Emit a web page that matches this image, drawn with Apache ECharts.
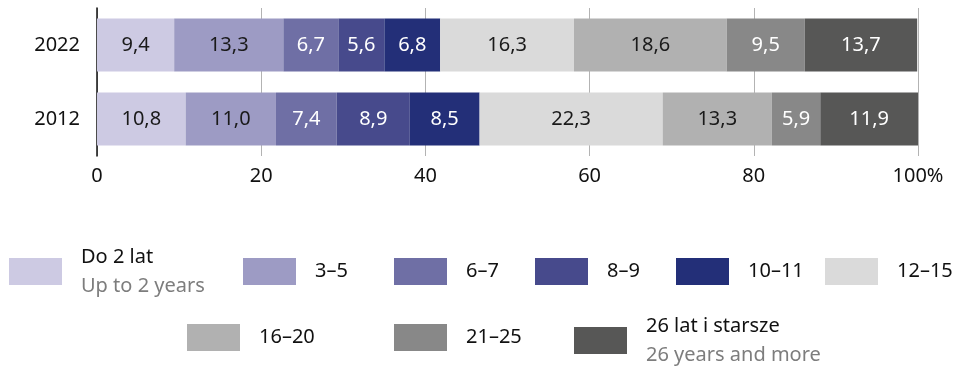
<!DOCTYPE html>
<html><head><meta charset="utf-8">
<script src="https://cdn.jsdelivr.net/npm/echarts@6/dist/echarts.min.js"></script>
<style>html,body{margin:0;padding:0;background:#fff}#c{width:962px;height:366px}</style>
</head><body><div id="c"></div>
<script>
var years = ['2012', '2022'];
var groups = ['Do 2 lat', '3–5', '6–7', '8–9', '10–11', '12–15', '16–20', '21–25', '26 lat i starsze'];
var subLabels = {'Do 2 lat': 'Up to 2 years', '26 lat i starsze': '26 years and more'};
// values per group: [2012, 2022]
var vDo2 = [10.8, 9.4];
var v3_5 = [11.0, 13.3];
var v6_7 = [7.4, 6.7];
var v8_9 = [8.9, 5.6];
var v10_11 = [8.5, 6.8];
var v12_15 = [22.3, 16.3];
var v16_20 = [13.3, 18.6];
var v21_25 = [5.9, 9.5];
var v26 = [11.9, 13.7];
var values = [vDo2, v3_5, v6_7, v8_9, v10_11, v12_15, v16_20, v21_25, v26];
var xTicks = ['0', '20', '40', '60', '80', '100%'];

var colors = ['#cdcae3', '#9d9bc4', '#6f6fa5', '#474a8c', '#232f78', '#dadada', '#b1b1b1', '#888888', '#575756'];
var labelColors = ['#1a1a1a', '#1a1a1a', '#ffffff', '#ffffff', '#ffffff', '#1a1a1a', '#1a1a1a', '#ffffff', '#ffffff'];
var FONT = 'Noto Sans';
var FS = 20;

var series = groups.map(function (g, i) {
  return {
    name: g, type: 'bar', stack: 'total', barWidth: 53,
    itemStyle: {color: colors[i]},
    label: {
      show: true, position: 'inside', color: labelColors[i],
      fontFamily: FONT, fontSize: FS,
      formatter: function (p) { return p.value.toFixed(1).replace('.', ','); }
    },
    data: values[i]
  };
});

// legend layout: [left of icon, top of legend block]
var legendPos = [[9, 247], [243, 258], [394, 258], [535, 258], [676, 258], [825, 258], [187, 324], [394, 324], [574, 316]];
var legends = groups.map(function (g, i) {
  return {
    data: [g], left: legendPos[i][0], top: legendPos[i][1],
    padding: 0, itemWidth: 53, itemHeight: 27, icon: 'rect',
    selectedMode: false,
    formatter: function (n) { return subLabels[n] ? '{a|' + n + '}\n{b|' + subLabels[n] + '}' : '{a|' + n + '}'; },
    textStyle: {
      padding: [0, 0, 0, 14],
      rich: {
        a: {fontFamily: FONT, fontSize: FS, color: '#111', lineHeight: 29},
        b: {fontFamily: FONT, fontSize: FS, color: '#7d7d7d', lineHeight: 29}
      }
    }
  };
});

var chart = echarts.init(document.getElementById('c'), null, {renderer: 'canvas'});
chart.setOption({
  animation: false,
  grid: {left: 97, right: 44, top: 8, bottom: 210, containLabel: false},
  xAxis: {
    type: 'value', min: 0, max: 100, interval: 20,
    axisLine: {show: false}, axisTick: {show: false},
    splitLine: {show: true, lineStyle: {color: '#b3b3b3', width: 1}},
    axisLabel: {
      margin: 10, color: '#111', fontFamily: FONT, fontSize: FS,
      formatter: function (v) { return xTicks[Math.round(v / 20)]; }
    }
  },
  yAxis: {
    type: 'category', data: years,
    axisLine: {show: true, lineStyle: {color: '#111', width: 1.5}},
    axisTick: {show: false},
    axisLabel: {margin: 17, color: '#111', fontFamily: FONT, fontSize: FS}
  },
  legend: legends,
  series: series
});
</script></body></html>
